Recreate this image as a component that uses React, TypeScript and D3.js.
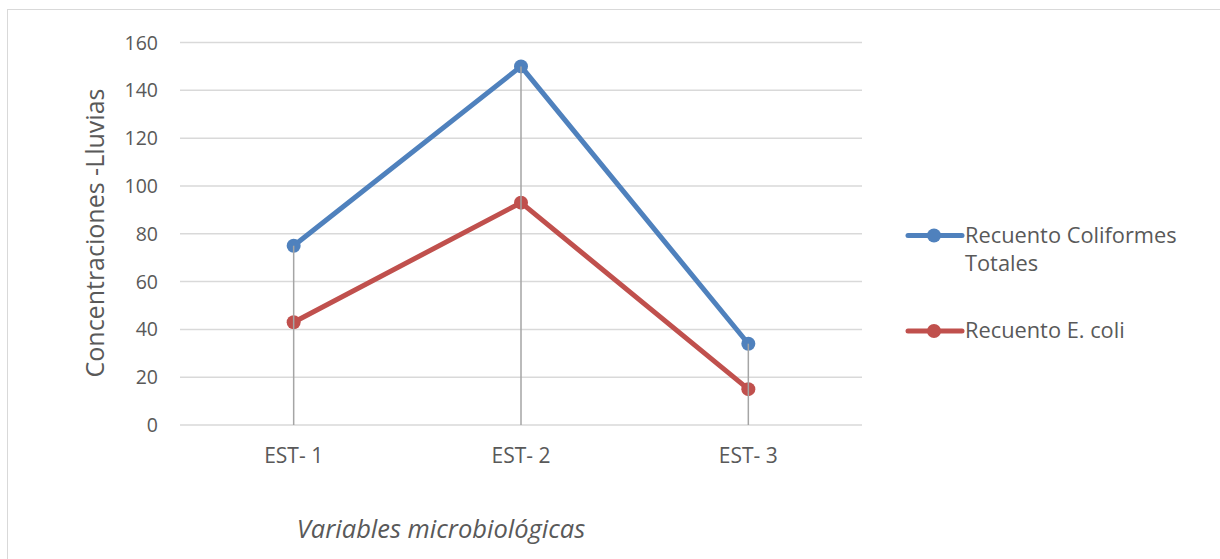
import React from "react";
import * as d3 from "d3";

const categories = ["EST- 1", "EST- 2", "EST- 3"];
const coliformes = [75, 150, 34];
const ecoli = [43, 93, 15];
const yTicks = [0, 20, 40, 60, 80, 100, 120, 140, 160];
const seriesNames = ["Recuento Coliformes Totales", "Recuento E. coli"];
const seriesColors = ["#4f81bd", "#c0504d"];

const W = 1220;
const H = 559;
const FONT = "'Open Sans', sans-serif";

export default function App() {
  const x = d3.scaleBand<string>().domain(categories).range([180, 862]);
  const y = d3.scaleLinear().domain([0, 160]).range([425, 42.5]);
  const cx = (c: string) => (x(c) as number) + x.bandwidth() / 2;
  const line = d3
    .line<number>()
    .x((_, i) => cx(categories[i]))
    .y((d) => y(d));
  const series = [coliformes, ecoli];

  return (
    <svg
      width={W}
      height={H}
      style={{ position: "absolute", left: 0, top: 0 }}
      fontFamily={FONT}
    >
      <rect x={0} y={0} width={W} height={H} fill="#fff" />
      <rect x={7.5} y={9.5} width={W} height={H} fill="none" stroke="#d9d9d9" strokeWidth={1} />
      {yTicks.map((t) => (
        <g key={t}>
          <line x1={180} x2={862} y1={y(t)} y2={y(t)} stroke="#d9d9d9" strokeWidth={1.5} />
          <text x={158} y={y(t)} dy="0.36em" textAnchor="end" fontSize={19.5} fill="#595959">
            {t}
          </text>
        </g>
      ))}
      {categories.map((c) => (
        <text key={c} x={cx(c)} y={463} textAnchor="middle" fontSize={21} fill="#595959">
          {c}
        </text>
      ))}
      {series.map((s, k) => (
        <g key={k}>
          <path d={line(s) || ""} fill="none" stroke={seriesColors[k]} strokeWidth={5} strokeLinejoin="round" />
          {s.map((v, i) => (
            <circle key={i} cx={cx(categories[i])} cy={y(v)} r={7} fill={seriesColors[k]} />
          ))}
        </g>
      ))}
      {categories.map((c, i) => (
        <line
          key={c}
          x1={cx(c)}
          x2={cx(c)}
          y1={y(Math.max(coliformes[i], ecoli[i]))}
          y2={y(0)}
          stroke="#a5a5a5"
          strokeWidth={1.5}
        />
      ))}
      <text
        transform={`translate(104,233) rotate(-90)`}
        textAnchor="middle"
        fontSize={25}
        fill="#595959"
      >
        Concentraciones -Lluvias
      </text>
      <text x={441} y={538} textAnchor="middle" fontSize={25.5} fontStyle="italic" fill="#595959">
        Variables microbiológicas
      </text>
      <g>
        <line x1={908} x2={962} y1={235.5} y2={235.5} stroke={seriesColors[0]} strokeWidth={5} strokeLinecap="round" />
        <circle cx={934} cy={235.5} r={7} fill={seriesColors[0]} />
        <text x={965} y={243} fontSize={21.8} fill="#595959">Recuento Coliformes</text>
        <text x={965} y={271} fontSize={21.8} fill="#595959">Totales</text>
        <line x1={908} x2={962} y1={331} y2={331} stroke={seriesColors[1]} strokeWidth={5} strokeLinecap="round" />
        <circle cx={934} cy={331} r={7} fill={seriesColors[1]} />
        <text x={965} y={338} fontSize={21.8} fill="#595959">{seriesNames[1]}</text>
      </g>
    </svg>
  );
}
